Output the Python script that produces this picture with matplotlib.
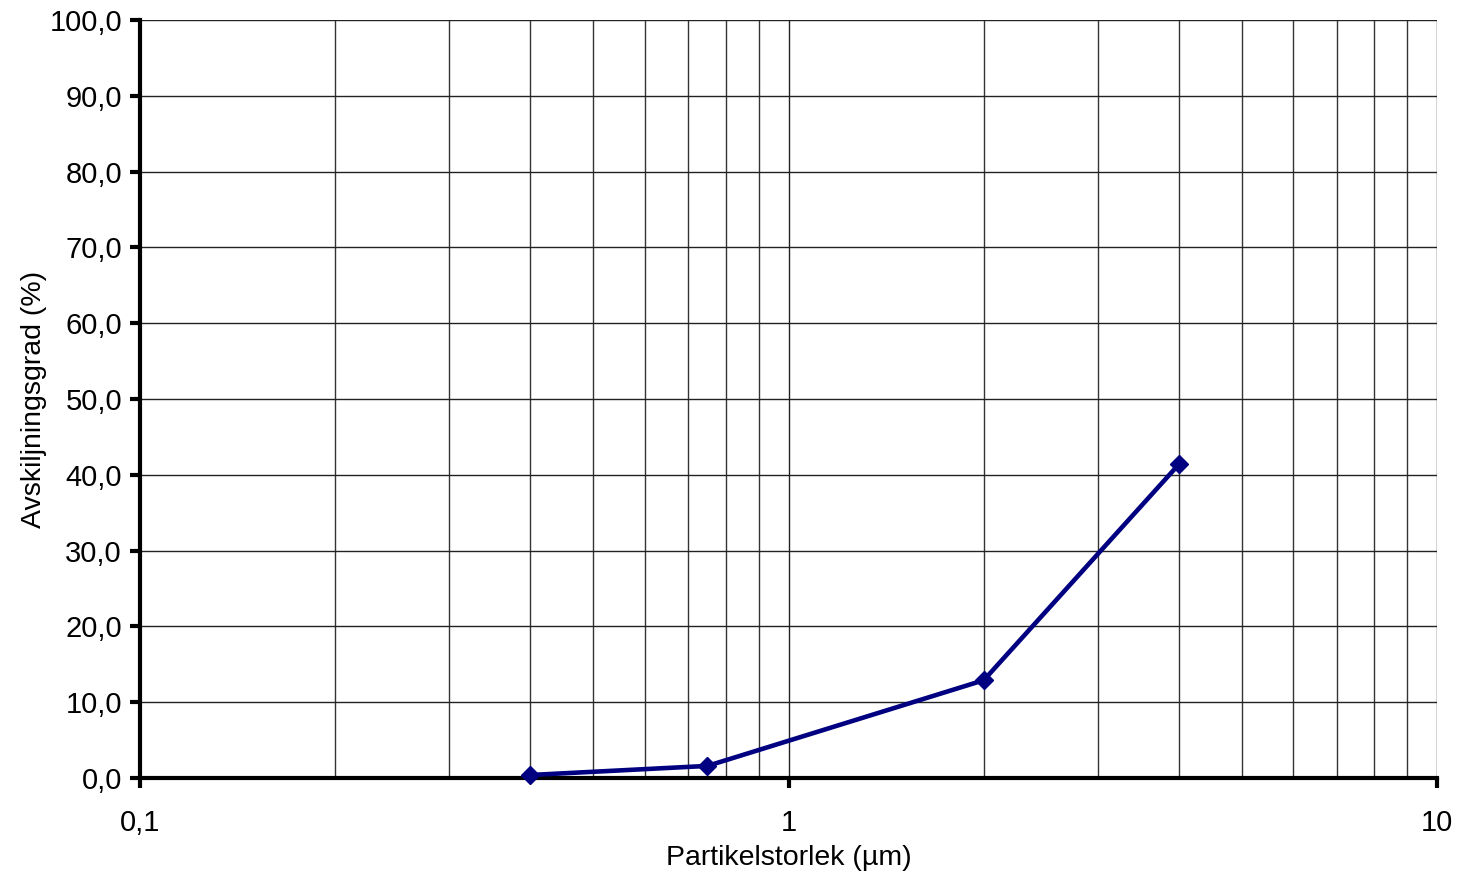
import numpy as np
import matplotlib.pyplot as plt
from matplotlib.ticker import FixedLocator, FuncFormatter, LogLocator, NullFormatter

plt.rcParams['font.family'] = ['Liberation Sans', 'DejaVu Sans']

# data
particle_size = [0.4, 0.75, 2.0, 4.0]
separation = [0.4, 1.6, 12.9, 41.4]

x_ticks = [0.1, 1, 10]
x_tick_labels = ['0,1', '1', '10']
y_ticks = np.arange(0, 101, 10)

fig = plt.figure(figsize=(14.61, 8.74), dpi=100)
ax = fig.add_axes([0.0958, 0.1098, 0.8878, 0.8673])

ax.plot(particle_size, separation, color='#000080', lw=3.3, marker='D', markersize=9,
        zorder=5, clip_on=False)

ax.set_xscale('log')
ax.set_xlim(0.1, 10)
ax.set_ylim(0, 100)

ax.xaxis.set_major_locator(FixedLocator(x_ticks))
ax.xaxis.set_major_formatter(FuncFormatter(lambda v, p: x_tick_labels[x_ticks.index(v)] if v in x_ticks else ''))
ax.xaxis.set_minor_locator(LogLocator(base=10, subs=np.arange(2, 10)))
ax.xaxis.set_minor_formatter(NullFormatter())
ax.set_yticks(y_ticks)
ax.yaxis.set_major_formatter(FuncFormatter(lambda v, p: ('%.1f' % v).replace('.', ',')))

ax.grid(True, which='major', color='#222222', lw=1)
ax.grid(True, which='minor', axis='x', color='#333333', lw=1)
ax.set_axisbelow(True)

ax.spines['top'].set_visible(False)
ax.spines['right'].set_visible(False)
ax.spines['left'].set_linewidth(3)
ax.spines['bottom'].set_linewidth(3)
ax.tick_params(axis='both', which='major', direction='out', length=7, width=3, labelsize=21, pad=6)
ax.tick_params(axis='x', which='minor', length=0)
ax.tick_params(axis='x', which='major', pad=15)

ax.set_xlabel('Partikelstorlek (µm)', fontsize=20.5, labelpad=6)
ax.set_ylabel('Avskiljningsgrad (%)', fontsize=20.5, labelpad=2)

fig.savefig('out.png', dpi=100)
